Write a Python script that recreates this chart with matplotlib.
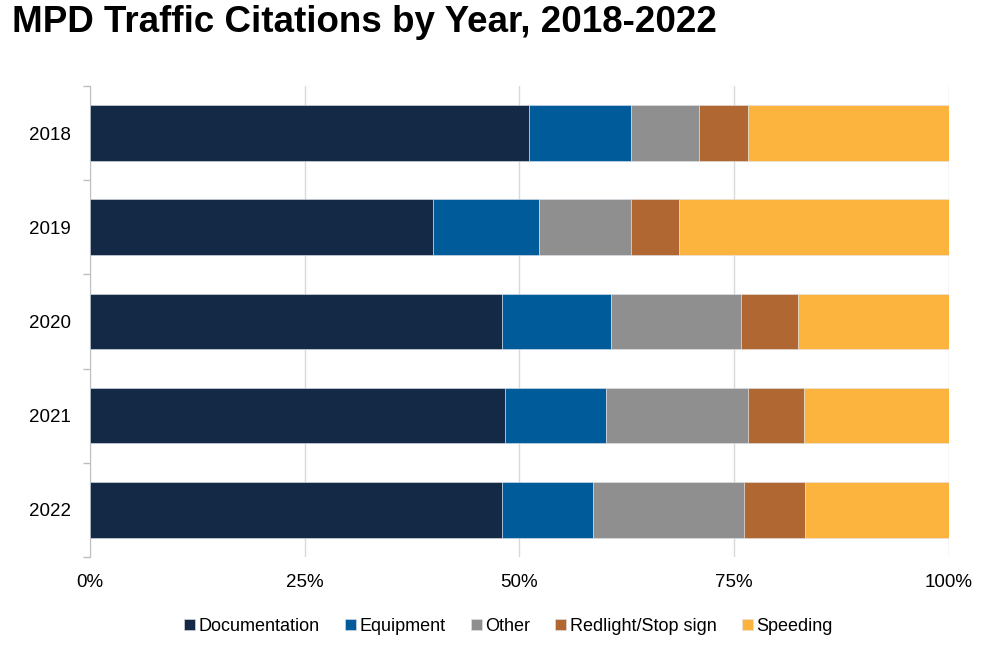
import numpy as np
import matplotlib.pyplot as plt
from matplotlib.ticker import PercentFormatter

plt.rcParams['font.family'] = ['Liberation Sans', 'DejaVu Sans']

years = ['2018', '2019', '2020', '2021', '2022']
categories = ['Documentation', 'Equipment', 'Other', 'Redlight/Stop sign', 'Speeding']
# shares in percent
documentation = [51.1, 39.9, 48.0, 48.3, 48.0]
equipment = [11.9, 12.4, 12.7, 11.8, 10.6]
other = [7.9, 10.7, 15.1, 16.5, 17.5]
redlight = [5.7, 5.6, 6.6, 6.5, 7.1]
speeding = [23.4, 31.4, 17.6, 16.9, 16.8]
colors = ['#142945', '#005b9a', '#8f8f8f', '#b06731', '#fdb43f']

series = [documentation, equipment, other, redlight, speeding]

fig = plt.figure(figsize=(9.91, 6.51), dpi=100)
ax = fig.add_axes([0.0908, 0.1444, 0.8668, 0.7236])

y = np.arange(len(years))
left = np.zeros(len(years))
for vals, name, c in zip(series, categories, colors):
    ax.barh(y, vals, left=left, height=0.59, color=c, label=name,
            edgecolor='#dfe3ea', linewidth=0.4, zorder=3)
    left += np.array(vals)

ax.set_xlim(0, 100)
ax.set_ylim(len(years) - 0.5, -0.5)
ax.set_yticks(y)
ax.set_yticklabels(years, fontsize=13.5)
ax.set_yticks(np.arange(-0.5, len(years)), minor=True)
ax.tick_params(axis='y', which='major', length=0, pad=14)
ax.tick_params(axis='y', which='minor', length=5, color='#bfbfbf', width=1)
ax.set_xticks([0, 25, 50, 75, 100])
ax.xaxis.set_major_formatter(PercentFormatter(decimals=0))
ax.tick_params(axis='x', length=0, labelsize=13.5, pad=12)
ax.grid(axis='x', color='#d9d9d9', linewidth=1, zorder=0)

for s in ['top', 'right', 'bottom']:
    ax.spines[s].set_visible(False)
ax.spines['left'].set_color('#bfbfbf')

fig.text(0.012, 0.965, 'MPD Traffic Citations by Year, 2018-2022',
         fontsize=26.5, fontweight='bold', va='center', ha='left')

fig.legend(loc='center', bbox_to_anchor=(0.513, 0.038), ncol=5, frameon=False,
           fontsize=13, handlelength=0.6, handleheight=0.6, handletextpad=0.2,
           columnspacing=1.4)

fig.savefig('out.png', dpi=100)
